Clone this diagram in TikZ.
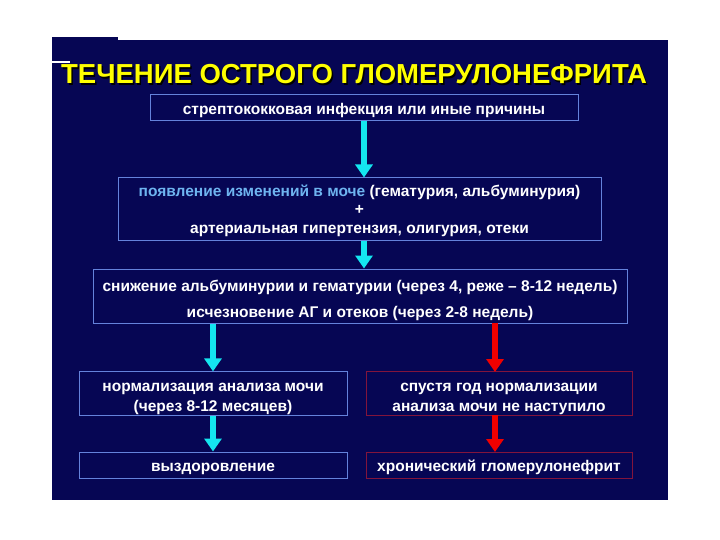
\documentclass[tikz,border=0pt]{standalone}
\usepackage{fontspec}
\setmainfont{Liberation Sans}
\usetikzlibrary{arrows.meta}
\definecolor{navy}{RGB}{6,6,84}
\definecolor{boxblue}{RGB}{100,130,220}
\definecolor{boxred}{RGB}{130,20,60}
\definecolor{arrcyan}{RGB}{20,230,240}
\definecolor{arrred}{RGB}{240,0,0}
\definecolor{lightblue}{RGB}{110,180,240}
\definecolor{titleyellow}{RGB}{255,255,0}
\newcommand{\lowby}[1]{\rule{0pt}{#1}}

\begin{document}
\begin{tikzpicture}[x=1pt,y=-1pt,
    blk/.style={draw=boxblue, line width=1pt, text=white, align=center,
      font=\bfseries\fontsize{15.5}{18}\selectfont, inner sep=0pt},
    redblk/.style={blk, draw=boxred},
    goon/.style={line width=6.5pt, draw=arrcyan, -{Triangle[width=17pt,length=13pt]}},
    fail/.style={goon, draw=arrred}]
  \useasboundingbox (0,0) rectangle (720,540);
  % panel
  \fill[navy] (52,40) rectangle (668,500);
  \fill[navy] (52,37) rectangle (118,40);
  \fill[white] (52,61.5) rectangle (70,63.5);
  % title
  \node[text=black, font=\bfseries\fontsize{27.5}{30}\selectfont] (titleshadow) at (355.5,76) {ТЕЧЕНИЕ ОСТРОГО ГЛОМЕРУЛОНЕФРИТА};
  \node[text=titleyellow, font=\bfseries\fontsize{27.5}{30}\selectfont] (title) at (354,74.5) {ТЕЧЕНИЕ ОСТРОГО ГЛОМЕРУЛОНЕФРИТА};
  % boxes
  \node[blk, minimum width=428pt, minimum height=26pt] (cause) at (364,108) {\lowby{16pt}стрептококковая инфекция или иные причины};
  \node[blk, minimum width=483pt, minimum height=62pt] (onset) at (359.5,209)
    {\lowby{16pt}\textcolor{lightblue}{появление изменений в моче} (гематурия, альбуминурия)\\[0pt] +\\[1pt] артериальная гипертензия, олигурия, отеки};
  \node[blk, minimum width=534pt, minimum height=54pt] (regress) at (360,296)
    {\lowby{20pt}снижение альбуминурии и гематурии (через 4, реже – 8-12 недель)\\[8pt] исчезновение АГ и отеков (через 2-8 недель)};
  \node[blk, minimum width=268pt, minimum height=43pt] (norm) at (213,393.5)
    {\lowby{20pt}нормализация анализа мочи\\[2pt] (через 8-12 месяцев)};
  \node[redblk, minimum width=266pt, minimum height=43pt] (nonorm) at (499,393.5)
    {\lowby{20pt}спустя год нормализации\\[2pt] анализа мочи не наступило};
  \node[blk, minimum width=268pt, minimum height=26pt] (recover) at (213,465) {\lowby{17pt}выздоровление};
  \node[redblk, minimum width=266pt, minimum height=26pt] (chronic) at (499,465) {\lowby{17pt}хронический гломерулонефрит};
  % arrows
  \draw[goon] (cause.south) -- (cause.south |- onset.north);
  \draw[goon] (cause.south |- onset.south) -- (cause.south |- regress.north);
  \draw[goon] (norm.north |- regress.south) -- (norm.north);
  \draw[fail] (495,322.5) -- (495,372);
  \draw[goon] (norm.south) -- (recover.north);
  \draw[fail] (495,415) -- (495,452);
\end{tikzpicture}
\end{document}
